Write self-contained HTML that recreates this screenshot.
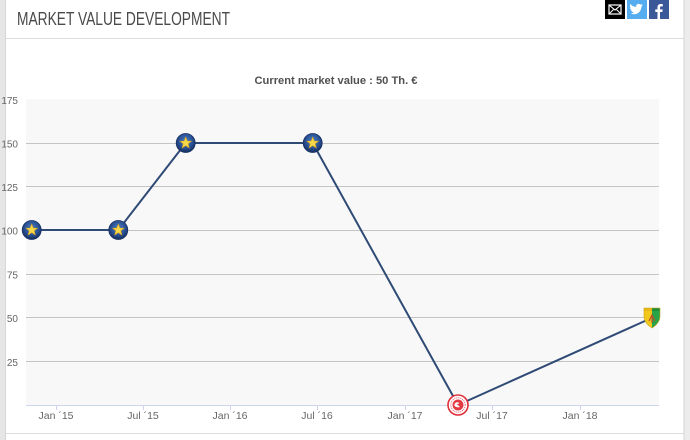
<!DOCTYPE html>
<html><head><meta charset="utf-8"><style>
html,body{margin:0;padding:0;background:#fff;}
svg{display:block;}
</style></head><body>
<svg width="690" height="440" viewBox="0 0 690 440" xmlns="http://www.w3.org/2000/svg">
<defs>
<radialGradient id="bl" cx="50%" cy="40%" r="60%">
<stop offset="0" stop-color="#4f7fc4"/><stop offset="0.6" stop-color="#2a5296"/><stop offset="1" stop-color="#152d5c"/>
</radialGradient>
<g id="star">
<circle r="9.5" fill="url(#bl)" stroke="#1a3264" stroke-width="0.8"/>
<polygon points="0,-6 1.6,-2 5.8,-1.9 2.5,0.8 3.6,5 0,2.6 -3.6,5 -2.5,0.8 -5.8,-1.9 -1.6,-2" fill="#f6d84a" stroke="#d9a21c" stroke-width="0.6"/>
</g>
</defs>
<!-- frame -->
<rect x="0" y="0" width="690" height="440" fill="#fff"/>
<rect x="0" y="0" width="6" height="440" fill="#e6e6e6"/>
<rect x="5" y="0" width="1" height="440" fill="#d6d6d6"/>
<rect x="684" y="0" width="6" height="440" fill="#ececec"/>
<rect x="683.5" y="0" width="1" height="440" fill="#d4d4d4"/>
<rect x="6" y="38" width="678" height="1" fill="#dcdcdc"/>
<rect x="6" y="433" width="678" height="1" fill="#dcdcdc"/>
<!-- title -->
<text x="17" y="25" font-family="Liberation Sans, sans-serif" font-size="18" fill="#4a4a4a" textLength="213" lengthAdjust="spacingAndGlyphs">MARKET VALUE DEVELOPMENT</text>
<!-- social icons -->
<rect x="605" y="0" width="20" height="19" fill="#000"/>
<rect x="609" y="5" width="12" height="9" fill="none" stroke="#fff" stroke-width="1.2"/>
<polyline points="609,5 615,10 621,5" fill="none" stroke="#fff" stroke-width="1.1"/>
<polyline points="609,14 613.5,9.5 M616.5,9.5" fill="none" stroke="#fff" stroke-width="1"/>
<line x1="621" y1="14" x2="616.5" y2="9.5" stroke="#fff" stroke-width="1"/>
<rect x="627" y="0" width="20" height="19" fill="#55acee"/>
<path d="M631,13.5 c4,2 10,0 10.5,-7 l1.5,-1.5 l-1.8,0.4 l1,-1.5 l-2,0.7 c-1.5,-1.6 -4.5,-0.6 -4,2.3 c-2.5,0 -4.5,-1.2 -6,-3 c-0.8,1.5 0,3.2 1,3.8 l-1.3,-0.3 c0,1.5 1,2.5 2.3,2.8 l-1.3,0.1 c0.5,1.2 1.5,1.8 2.8,1.9 c-1.2,1 -3,1.4 -4,1.3 z" fill="#fff"/>
<rect x="649" y="0" width="20" height="19" fill="#3b5998"/>
<path d="M660,19 v-7 h2.3 l0.4,-2.6 h-2.7 v-1.7 c0,-0.8 0.3,-1.3 1.4,-1.3 h1.4 v-2.3 c-0.3,0 -1.1,-0.1 -2,-0.1 c-2,0 -3.3,1.2 -3.3,3.4 v2 h-2.2 v2.6 h2.2 v7 z" fill="#fff"/>
<!-- subtitle -->
<text x="336" y="84" text-anchor="middle" font-family="Liberation Sans, sans-serif" font-weight="bold" font-size="11" fill="#505050" textLength="163" lengthAdjust="spacingAndGlyphs">Current market value : 50 Th. €</text>
<!-- plot bg -->
<rect x="26" y="99" width="633" height="306" fill="#f8f8f8"/>
<!-- gridlines -->
<g stroke="#c4c4c4" stroke-width="1">
<line x1="26" y1="143.5" x2="659" y2="143.5"/>
<line x1="26" y1="186.5" x2="659" y2="186.5"/>
<line x1="26" y1="230.5" x2="659" y2="230.5"/>
<line x1="26" y1="274.5" x2="659" y2="274.5"/>
<line x1="26" y1="317.5" x2="659" y2="317.5"/>
<line x1="26" y1="361.5" x2="659" y2="361.5"/>
</g>
<line x1="26" y1="405.5" x2="659" y2="405.5" stroke="#ccd6eb" stroke-width="1"/>
<!-- ticks -->
<g stroke="#ccd6eb" stroke-width="1">
<line x1="56.5" y1="405" x2="56.5" y2="410"/>
<line x1="143.5" y1="405" x2="143.5" y2="410"/>
<line x1="230.5" y1="405" x2="230.5" y2="410"/>
<line x1="317.5" y1="405" x2="317.5" y2="410"/>
<line x1="405.5" y1="405" x2="405.5" y2="410"/>
<line x1="492.5" y1="405" x2="492.5" y2="410"/>
<line x1="580.5" y1="405" x2="580.5" y2="410"/>
</g>
<!-- y labels -->
<g font-family="Liberation Sans, sans-serif" font-size="10" fill="#666" text-anchor="end">
<text x="18" y="104">175</text>
<text x="18" y="147.5">150</text>
<text x="18" y="191">125</text>
<text x="18" y="234.5">100</text>
<text x="18" y="278.5">75</text>
<text x="18" y="322">50</text>
<text x="18" y="366">25</text>
</g>
<!-- x labels -->
<g font-family="Liberation Sans, sans-serif" font-size="10.5" fill="#666" text-anchor="middle">
<text x="56" y="419">Jan ´15</text>
<text x="143" y="419">Jul ´15</text>
<text x="230" y="419">Jan ´16</text>
<text x="317" y="419">Jul ´16</text>
<text x="405" y="419">Jan ´17</text>
<text x="492" y="419">Jul ´17</text>
<text x="580" y="419">Jan ´18</text>
</g>
<!-- series -->
<polyline points="31.7,230 118.3,230 185.7,143 312.7,143 458,405 651.5,318" fill="none" stroke="#2f4b75" stroke-width="2" stroke-linejoin="round"/>
<use href="#star" x="31.7" y="230"/>
<use href="#star" x="118.3" y="230"/>
<use href="#star" x="185.7" y="143"/>
<use href="#star" x="312.7" y="143"/>
<!-- red logo -->
<g transform="translate(458,405)">
<circle r="10" fill="#fff" stroke="#e0303a" stroke-width="1.6"/>
<circle r="7.2" fill="none" stroke="#e0303a" stroke-width="0.8" stroke-dasharray="1 1"/>
<circle r="5.5" fill="#e33a44"/>
<path d="M-3.5,-1 q2,-3 5,-1 q-1,1 -3,1.5 q2,0.5 3.5,2.5 q-3,1 -5.5,-1 z" fill="#fff"/>
</g>
<!-- shield -->
<g transform="translate(652,318)">
<path d="M-8,-10 H0 V10 Q-8,5 -8,-2 Z" fill="#f2c81c"/>
<path d="M0,-10 H8 V-2 Q8,5 0,10 Z" fill="#27a348"/>
<rect x="-8" y="-10" width="16" height="3" fill="#e8b818"/>
<rect x="0" y="-10" width="8" height="3" fill="#1f8d3c"/>
<path d="M-3,3 L0,-3 L3,3 M0,-3 V5" stroke="#b5562a" stroke-width="1.2" fill="none"/>
<path d="M-8,-10 H8 V-2 Q8,5 0,10 Q-8,5 -8,-2 Z" fill="none" stroke="#c9a316" stroke-width="0.6"/>
</g>
</svg>
</body></html>
